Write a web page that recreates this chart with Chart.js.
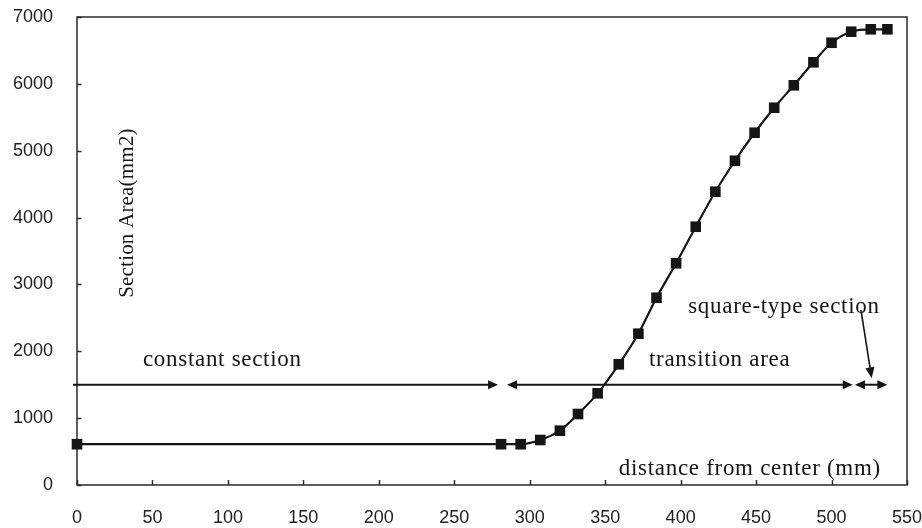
<!DOCTYPE html>
<html>
<head>
<meta charset="utf-8">
<script src="https://cdn.jsdelivr.net/npm/chart.js@4/dist/chart.umd.min.js"></script>
<style>
  html, body { margin: 0; padding: 0; background: #fff; }
  #chart { display: block; }
</style>
</head>
<body>
<canvas id="chart" width="922" height="528"></canvas>
<script>
// Section area along the blade.
const distance = [0, 281, 294, 307, 320, 332, 345, 359, 372, 384, 397, 410, 423, 436, 449, 462, 475, 488, 500, 513, 526, 537];
const area = [610, 610, 610, 673, 812, 1062, 1371, 1805, 2263, 2801, 3316, 3863, 4387, 4850, 5269, 5643, 5978, 6322, 6615, 6780, 6816, 6816];

const xTicks = [0, 50, 100, 150, 200, 250, 300, 350, 400, 450, 500, 550];
const yTicks = [0, 1000, 2000, 3000, 4000, 5000, 6000, 7000];

// region arrows at y = 1500: [from, to, head at start, head at end]
const arrowLevel = 1500;
const regionArrows = [
    [0, 279, false, true],
    [285, 514, true, true],
    [515.5, 537, true, true],
];
// pointer from the "square-type section" label down to its arrow
const pointer = [[519.5, 2617], [526.6, 1596]];

// labels placed in data units: [text, x, y]
const labels = [
    ['constant section', 43.7, 1780],
    ['transition area', 379, 1780],
    ['square-type section', 405, 2573],
    ['distance from center (mm)', 359, 150],
];
const yTitle = ['Section Area(mm2)', 37.1, 4068];

const INK = '#151515';

function arrowHead(ctx, tipX, tipY, dir) {
    ctx.beginPath();
    ctx.moveTo(tipX, tipY);
    ctx.lineTo(tipX - dir * 10, tipY - 4.5);
    ctx.lineTo(tipX - dir * 10, tipY + 4.5);
    ctx.closePath();
    ctx.fill();
}

function noPad(s) {
    s.paddingTop = 0;
    s.paddingBottom = 0;
    s.paddingLeft = 0;
    s.paddingRight = 0;
}

const frameAndNotes = {
    id: 'frameAndNotes',
    beforeDatasetsDraw(chart) {
        const { ctx, chartArea, scales } = chart;
        ctx.save();
        ctx.strokeStyle = '#2a2a2a';
        ctx.lineWidth = 1.5;
        ctx.strokeRect(chartArea.left, chartArea.top, chartArea.right - chartArea.left, chartArea.bottom - chartArea.top);
        // inward tick marks
        ctx.beginPath();
        yTicks.forEach((v) => {
            const py = Math.round(scales.y.getPixelForValue(v)) + 0.5;
            ctx.moveTo(chartArea.left, py);
            ctx.lineTo(chartArea.left + 4.5, py);
        });
        xTicks.forEach((v) => {
            const px = Math.round(scales.x.getPixelForValue(v)) + 0.5;
            ctx.moveTo(px, chartArea.bottom);
            ctx.lineTo(px, chartArea.bottom - 5);
        });
        ctx.stroke();
        ctx.restore();
    },
    afterDatasetsDraw(chart) {
        const { ctx, scales } = chart;
        const X = (v) => scales.x.getPixelForValue(v);
        const Y = (v) => scales.y.getPixelForValue(v);
        ctx.save();
        ctx.strokeStyle = INK;
        ctx.fillStyle = INK;
        ctx.lineWidth = 2;

        const ay = Y(arrowLevel);
        regionArrows.forEach(([a, b, headA, headB]) => {
            const xa = X(a), xb = X(b);
            ctx.beginPath();
            ctx.moveTo(headA ? xa + 8 : xa - 4, ay);
            ctx.lineTo(headB ? xb - 8 : xb, ay);
            ctx.stroke();
            if (headA) arrowHead(ctx, xa, ay, -1);
            if (headB) arrowHead(ctx, xb, ay, 1);
        });

        // pointer arrow
        const p0x = X(pointer[0][0]), p0y = Y(pointer[0][1]);
        const p1x = X(pointer[1][0]), p1y = Y(pointer[1][1]);
        const ang = Math.atan2(p1y - p0y, p1x - p0x);
        ctx.lineWidth = 1.6;
        ctx.beginPath();
        ctx.moveTo(p0x, p0y);
        ctx.lineTo(p1x - Math.cos(ang) * 8, p1y - Math.sin(ang) * 8);
        ctx.stroke();
        ctx.beginPath();
        ctx.moveTo(p1x, p1y);
        ctx.lineTo(p1x - Math.cos(ang) * 11 + Math.sin(ang) * 4.5, p1y - Math.sin(ang) * 11 - Math.cos(ang) * 4.5);
        ctx.lineTo(p1x - Math.cos(ang) * 11 - Math.sin(ang) * 4.5, p1y - Math.sin(ang) * 11 + Math.cos(ang) * 4.5);
        ctx.closePath();
        ctx.fill();

        // text
        ctx.font = '23px "Liberation Serif", "Times New Roman", serif';
        ctx.letterSpacing = '0.7px';
        ctx.textAlign = 'left';
        ctx.textBaseline = 'alphabetic';
        labels.forEach(([t, x, y]) => ctx.fillText(t, X(x), Y(y)));

        ctx.font = '21px "Liberation Serif", "Times New Roman", serif';
        ctx.letterSpacing = '0.2px';
        ctx.translate(X(yTitle[1]), Y(yTitle[2]));
        ctx.rotate(-Math.PI / 2);
        ctx.textAlign = 'center';
        ctx.fillText(yTitle[0], 0, 0);
        ctx.restore();
    },
};

const tickFont = { family: '"Liberation Sans", Arial, sans-serif', size: 18 };

new Chart(document.getElementById('chart'), {
    type: 'line',
    data: {
        datasets: [{
            label: 'Section Area',
            data: distance.map((x, i) => ({ x, y: area[i] })),
            borderColor: INK,
            backgroundColor: INK,
            borderWidth: 2.2,
            pointStyle: 'rect',
            pointRadius: 7.5,
            pointBackgroundColor: INK,
            pointBorderWidth: 0,
            cubicInterpolationMode: 'monotone',
            clip: false,
        }],
    },
    options: {
        responsive: false,
        animation: false,
        layout: { padding: { top: 17, right: 15, left: 0, bottom: 0 } },
        plugins: { legend: { display: false }, tooltip: { enabled: false } },
        scales: {
            x: {
                type: 'linear',
                min: 0,
                max: 550,
                afterFit: (s) => { s.height = 43; noPad(s); },
                afterBuildTicks: (s) => { s.ticks = xTicks.map((v) => ({ value: v })); },
                grid: { display: false, drawTicks: false },
                border: { display: false },
                ticks: { padding: 22, color: '#222', font: tickFont, maxRotation: 0, callback: (v) => String(v) },
            },
            y: {
                type: 'linear',
                min: 0,
                max: 7000,
                afterFit: (s) => { s.width = 77; noPad(s); },
                afterBuildTicks: (s) => { s.ticks = yTicks.map((v) => ({ value: v })); },
                grid: { display: false, drawTicks: false },
                border: { display: false },
                ticks: { padding: 24, color: '#222', font: tickFont, callback: (v) => String(v) },
            },
        },
    },
    plugins: [frameAndNotes],
});
</script>
</body>
</html>
